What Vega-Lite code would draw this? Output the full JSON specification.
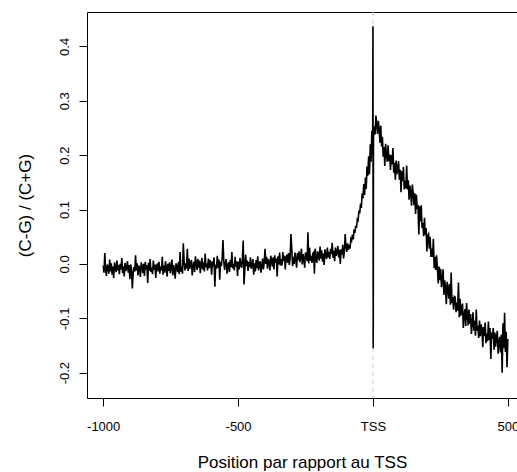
{
  "$schema": "https://vega.github.io/schema/vega-lite/v6.json",
  "autosize": {"type": "none"},
  "width": 430,
  "height": 386,
  "padding": {"left": 87, "top": 12, "right": 0, "bottom": 74},
  "background": "white",
  "config": {
    "view": {"stroke": null},
    "axis": {
      "domainColor": "black", "tickColor": "black", "labelColor": "black", "titleColor": "black",
      "grid": false, "labelFont": "Liberation Sans", "titleFont": "Liberation Sans",
      "titleFontWeight": "normal", "domainWidth": 1, "tickWidth": 1
    }
  },
  "layer": [
    {
      "data": {"values": [{}]},
      "mark": {"type": "rule", "color": "#cccccc", "strokeDash": [4, 4], "strokeWidth": 1},
      "encoding": {
        "x": {"datum": 0, "type": "quantitative",
              "axis": {"orient": "top", "ticks": false, "labels": false, "title": null, "domain": true}}
      }
    },
    {
      "data": {"values": [
{"x":-1000,"y":-0.003},{"x":-997,"y":-0.016},{"x":-994,"y":0.020},{"x":-991,"y":-0.011},{"x":-988,"y":-0.022},{"x":-985,"y":-0.001},{"x":-982,"y":-0.006},{"x":-979,"y":-0.018},{"x":-976,"y":0.008},{"x":-973,"y":-0.014},{"x":-970,"y":0.001},{"x":-967,"y":-0.020},{"x":-964,"y":-0.005},{"x":-961,"y":-0.026},{"x":-958,"y":0.003},{"x":-955,"y":-0.008},{"x":-952,"y":-0.015},{"x":-949,"y":0.006},{"x":-946,"y":-0.012},{"x":-943,"y":-0.002},
{"x":-940,"y":-0.019},{"x":-937,"y":0.000},{"x":-934,"y":-0.010},{"x":-931,"y":0.011},{"x":-928,"y":-0.017},{"x":-925,"y":-0.004},{"x":-922,"y":-0.023},{"x":-919,"y":0.002},{"x":-916,"y":-0.013},{"x":-913,"y":-0.007},{"x":-910,"y":0.005},{"x":-907,"y":-0.016},{"x":-904,"y":-0.002},{"x":-901,"y":-0.028},{"x":-898,"y":-0.001},{"x":-895,"y":-0.011},{"x":-892,"y":-0.045},{"x":-889,"y":-0.018},{"x":-886,"y":-0.006},{"x":-883,"y":-0.014},
{"x":-880,"y":0.016},{"x":-877,"y":-0.012},{"x":-874,"y":0.001},{"x":-871,"y":-0.021},{"x":-868,"y":-0.003},{"x":-865,"y":-0.009},{"x":-862,"y":-0.024},{"x":-859,"y":0.003},{"x":-856,"y":-0.005},{"x":-853,"y":-0.017},{"x":-850,"y":0.000},{"x":-847,"y":-0.022},{"x":-844,"y":0.004},{"x":-841,"y":-0.010},{"x":-838,"y":-0.002},{"x":-835,"y":-0.035},{"x":-832,"y":0.002},{"x":-829,"y":-0.013},{"x":-826,"y":0.009},{"x":-823,"y":-0.015},
{"x":-820,"y":-0.007},{"x":-817,"y":-0.019},{"x":-814,"y":0.006},{"x":-811,"y":-0.011},{"x":-808,"y":-0.001},{"x":-805,"y":-0.026},{"x":-802,"y":-0.004},{"x":-799,"y":0.001},{"x":-796,"y":-0.014},{"x":-793,"y":0.004},{"x":-790,"y":-0.018},{"x":-787,"y":-0.005},{"x":-784,"y":-0.012},{"x":-781,"y":0.013},{"x":-778,"y":-0.020},{"x":-775,"y":-0.003},{"x":-772,"y":-0.016},{"x":-769,"y":0.005},{"x":-766,"y":-0.008},{"x":-763,"y":-0.023},
{"x":-760,"y":0.000},{"x":-757,"y":-0.013},{"x":-754,"y":0.003},{"x":-751,"y":-0.017},{"x":-748,"y":-0.006},{"x":-745,"y":0.008},{"x":-742,"y":-0.021},{"x":-739,"y":-0.002},{"x":-736,"y":-0.010},{"x":-733,"y":-0.027},{"x":-730,"y":0.001},{"x":-727,"y":-0.004},{"x":-724,"y":-0.015},{"x":-721,"y":0.004},{"x":-718,"y":-0.019},{"x":-715,"y":0.022},{"x":-712,"y":-0.014},{"x":-709,"y":-0.005},{"x":-706,"y":-0.018},{"x":-703,"y":0.038},
{"x":-700,"y":0.005},{"x":-697,"y":-0.012},{"x":-694,"y":0.001},{"x":-691,"y":-0.008},{"x":-688,"y":0.028},{"x":-685,"y":-0.013},{"x":-682,"y":0.010},{"x":-679,"y":-0.009},{"x":-676,"y":0.002},{"x":-673,"y":0.007},{"x":-670,"y":-0.021},{"x":-667,"y":-0.004},{"x":-664,"y":0.004},{"x":-661,"y":-0.015},{"x":-658,"y":0.014},{"x":-655,"y":0.000},{"x":-652,"y":-0.011},{"x":-649,"y":0.009},{"x":-646,"y":-0.007},{"x":-643,"y":0.006},
{"x":-640,"y":-0.017},{"x":-637,"y":-0.002},{"x":-634,"y":0.011},{"x":-631,"y":-0.010},{"x":-628,"y":0.003},{"x":-625,"y":-0.014},{"x":-622,"y":0.019},{"x":-619,"y":-0.006},{"x":-616,"y":0.001},{"x":-613,"y":-0.012},{"x":-610,"y":0.010},{"x":-607,"y":-0.008},{"x":-604,"y":0.007},{"x":-601,"y":0.002},{"x":-598,"y":-0.020},{"x":-595,"y":0.005},{"x":-592,"y":-0.005},{"x":-589,"y":0.012},{"x":-586,"y":-0.042},{"x":-583,"y":-0.001},
{"x":-580,"y":-0.009},{"x":-577,"y":0.015},{"x":-574,"y":-0.007},{"x":-571,"y":0.008},{"x":-568,"y":-0.029},{"x":-565,"y":0.004},{"x":-562,"y":-0.004},{"x":-559,"y":0.010},{"x":-556,"y":0.044},{"x":-553,"y":0.006},{"x":-550,"y":-0.011},{"x":-547,"y":0.001},{"x":-544,"y":0.009},{"x":-541,"y":-0.018},{"x":-538,"y":-0.003},{"x":-535,"y":0.003},{"x":-532,"y":-0.015},{"x":-529,"y":0.007},{"x":-526,"y":-0.006},{"x":-523,"y":0.022},
{"x":-520,"y":-0.008},{"x":-517,"y":0.000},{"x":-514,"y":-0.012},{"x":-511,"y":0.013},{"x":-508,"y":-0.005},{"x":-505,"y":0.005},{"x":-502,"y":-0.022},{"x":-499,"y":0.004},{"x":-496,"y":-0.010},{"x":-493,"y":0.011},{"x":-490,"y":-0.001},{"x":-487,"y":-0.007},{"x":-484,"y":0.008},{"x":-481,"y":0.043},{"x":-478,"y":-0.038},{"x":-475,"y":-0.011},{"x":-472,"y":0.017},{"x":-469,"y":-0.004},{"x":-466,"y":0.006},{"x":-463,"y":-0.013},
{"x":-460,"y":0.004},{"x":-457,"y":-0.006},{"x":-454,"y":0.012},{"x":-451,"y":-0.009},{"x":-448,"y":-0.002},{"x":-445,"y":0.009},{"x":-442,"y":-0.020},{"x":-439,"y":0.001},{"x":-436,"y":-0.014},{"x":-433,"y":0.007},{"x":-430,"y":-0.008},{"x":-427,"y":0.014},{"x":-424,"y":-0.012},{"x":-421,"y":0.000},{"x":-418,"y":0.005},{"x":-415,"y":-0.016},{"x":-412,"y":-0.005},{"x":-409,"y":0.010},{"x":-406,"y":-0.010},{"x":-403,"y":0.003},
{"x":-400,"y":0.028},{"x":-397,"y":0.000},{"x":-394,"y":0.013},{"x":-391,"y":-0.009},{"x":-388,"y":0.009},{"x":-385,"y":0.003},{"x":-382,"y":-0.012},{"x":-379,"y":0.015},{"x":-376,"y":0.007},{"x":-373,"y":-0.005},{"x":-370,"y":0.012},{"x":-367,"y":-0.010},{"x":-364,"y":0.016},{"x":-361,"y":0.002},{"x":-358,"y":0.010},{"x":-355,"y":-0.023},{"x":-352,"y":0.014},{"x":-349,"y":-0.001},{"x":-346,"y":0.021},{"x":-343,"y":-0.003},
{"x":-340,"y":0.009},{"x":-337,"y":-0.003},{"x":-334,"y":0.022},{"x":-331,"y":0.005},{"x":-328,"y":0.015},{"x":-325,"y":-0.010},{"x":-322,"y":0.012},{"x":-319,"y":0.017},{"x":-316,"y":0.002},{"x":-313,"y":0.020},{"x":-310,"y":-0.002},{"x":-307,"y":0.011},{"x":-304,"y":0.055},{"x":-301,"y":0.029},{"x":-298,"y":-0.004},{"x":-295,"y":0.013},{"x":-292,"y":0.000},{"x":-289,"y":0.021},{"x":-286,"y":0.008},{"x":-283,"y":-0.007},
{"x":-280,"y":0.020},{"x":-277,"y":0.007},{"x":-274,"y":0.023},{"x":-271,"y":0.003},{"x":-268,"y":0.014},{"x":-265,"y":0.028},{"x":-262,"y":-0.001},{"x":-259,"y":0.018},{"x":-256,"y":0.010},{"x":-253,"y":-0.007},{"x":-250,"y":0.021},{"x":-247,"y":0.016},{"x":-244,"y":0.005},{"x":-241,"y":0.058},{"x":-238,"y":0.001},{"x":-235,"y":0.030},{"x":-232,"y":0.006},{"x":-229,"y":0.015},{"x":-226,"y":0.002},{"x":-223,"y":0.019},
{"x":-220,"y":0.021},{"x":-217,"y":-0.018},{"x":-214,"y":0.028},{"x":-211,"y":0.013},{"x":-208,"y":0.002},{"x":-205,"y":0.023},{"x":-202,"y":0.018},{"x":-199,"y":0.006},{"x":-196,"y":0.032},{"x":-193,"y":0.010},{"x":-190,"y":0.025},{"x":-187,"y":0.004},{"x":-184,"y":0.019},{"x":-181,"y":-0.002},{"x":-178,"y":0.027},{"x":-175,"y":0.016},{"x":-172,"y":0.009},{"x":-169,"y":0.030},{"x":-166,"y":0.012},{"x":-163,"y":0.022},
{"x":-160,"y":0.009},{"x":-157,"y":0.028},{"x":-154,"y":0.018},{"x":-151,"y":0.039},{"x":-148,"y":0.011},{"x":-145,"y":0.024},{"x":-142,"y":0.005},{"x":-139,"y":0.030},{"x":-136,"y":0.015},{"x":-133,"y":0.021},{"x":-130,"y":0.033},{"x":-127,"y":0.012},{"x":-124,"y":0.026},{"x":-121,"y":0.000},{"x":-118,"y":0.027},{"x":-115,"y":0.017},{"x":-112,"y":0.035},{"x":-109,"y":0.010},{"x":-106,"y":0.022},{"x":-103,"y":0.055},
{"x":-100,"y":0.033},{"x":-97,"y":0.022},{"x":-94,"y":0.038},{"x":-91,"y":0.026},{"x":-88,"y":0.035},{"x":-85,"y":0.028},{"x":-82,"y":0.046},{"x":-79,"y":0.043},{"x":-76,"y":0.054},{"x":-73,"y":0.045},{"x":-70,"y":0.063},{"x":-67,"y":0.057},{"x":-64,"y":0.070},{"x":-61,"y":0.066},{"x":-58,"y":0.082},{"x":-55,"y":0.080},{"x":-52,"y":0.098},{"x":-49,"y":0.093},{"x":-46,"y":0.111},{"x":-43,"y":0.103},
{"x":-40,"y":0.130},{"x":-37,"y":0.121},{"x":-34,"y":0.147},{"x":-31,"y":0.127},{"x":-28,"y":0.159},{"x":-25,"y":0.138},{"x":-22,"y":0.179},{"x":-19,"y":0.162},{"x":-16,"y":0.198},{"x":-13,"y":0.165},{"x":-10,"y":0.220},{"x":-7,"y":0.188},{"x":-4,"y":0.245},{"x":-1,"y":0.200},{"x":0,"y":0.437},{"x":1,"y":-0.155},{"x":2,"y":0.232},
{"x":5,"y":0.253},{"x":8,"y":0.238},{"x":11,"y":0.273},{"x":14,"y":0.257},{"x":17,"y":0.239},{"x":20,"y":0.263},{"x":23,"y":0.248},{"x":26,"y":0.223},{"x":29,"y":0.254},{"x":32,"y":0.216},{"x":35,"y":0.234},{"x":38,"y":0.197},{"x":41,"y":0.215},{"x":44,"y":0.180},{"x":47,"y":0.221},{"x":50,"y":0.201},{"x":53,"y":0.188},{"x":56,"y":0.218},{"x":59,"y":0.189},{"x":62,"y":0.201},
{"x":65,"y":0.173},{"x":68,"y":0.200},{"x":71,"y":0.183},{"x":74,"y":0.213},{"x":77,"y":0.168},{"x":80,"y":0.186},{"x":83,"y":0.155},{"x":86,"y":0.190},{"x":89,"y":0.165},{"x":92,"y":0.173},{"x":95,"y":0.189},{"x":98,"y":0.155},{"x":101,"y":0.173},{"x":104,"y":0.132},{"x":107,"y":0.171},{"x":110,"y":0.152},{"x":113,"y":0.178},{"x":116,"y":0.137},{"x":119,"y":0.153},{"x":122,"y":0.139},
{"x":125,"y":0.181},{"x":128,"y":0.137},{"x":131,"y":0.154},{"x":134,"y":0.118},{"x":137,"y":0.144},{"x":140,"y":0.131},{"x":143,"y":0.107},{"x":146,"y":0.146},{"x":149,"y":0.131},{"x":152,"y":0.108},{"x":155,"y":0.130},{"x":158,"y":0.092},{"x":161,"y":0.127},{"x":164,"y":0.101},{"x":167,"y":0.109},{"x":170,"y":0.054},{"x":173,"y":0.106},{"x":176,"y":0.078},{"x":179,"y":0.108},{"x":182,"y":0.066},
{"x":185,"y":0.075},{"x":188,"y":0.051},{"x":191,"y":0.085},{"x":194,"y":0.054},{"x":197,"y":0.066},{"x":200,"y":0.023},{"x":203,"y":0.052},{"x":206,"y":0.055},{"x":209,"y":0.028},{"x":212,"y":0.050},{"x":215,"y":0.013},{"x":218,"y":0.028},{"x":221,"y":0.013},{"x":224,"y":0.046},{"x":227,"y":-0.008},{"x":230,"y":0.013},{"x":233,"y":-0.011},{"x":236,"y":0.016},{"x":239,"y":-0.008},{"x":242,"y":-0.036},
{"x":245,"y":-0.005},{"x":248,"y":-0.030},{"x":251,"y":-0.009},{"x":254,"y":-0.043},{"x":257,"y":-0.028},{"x":260,"y":-0.010},{"x":263,"y":-0.057},{"x":266,"y":-0.030},{"x":269,"y":-0.045},{"x":272,"y":-0.074},{"x":275,"y":-0.033},{"x":278,"y":-0.044},{"x":281,"y":-0.064},{"x":284,"y":-0.037},{"x":287,"y":-0.075},{"x":290,"y":-0.016},{"x":293,"y":-0.072},{"x":296,"y":-0.061},{"x":299,"y":-0.084},{"x":302,"y":-0.060},
{"x":305,"y":-0.061},{"x":308,"y":-0.089},{"x":311,"y":-0.071},{"x":314,"y":-0.086},{"x":317,"y":-0.034},{"x":320,"y":-0.098},{"x":323,"y":-0.064},{"x":326,"y":-0.095},{"x":329,"y":-0.080},{"x":332,"y":-0.073},{"x":335,"y":-0.118},{"x":338,"y":-0.094},{"x":341,"y":-0.083},{"x":344,"y":-0.114},{"x":347,"y":-0.072},{"x":350,"y":-0.094},{"x":353,"y":-0.113},{"x":356,"y":-0.084},{"x":359,"y":-0.110},{"x":362,"y":-0.092},
{"x":365,"y":-0.129},{"x":368,"y":-0.107},{"x":371,"y":-0.089},{"x":374,"y":-0.123},{"x":377,"y":-0.104},{"x":380,"y":-0.132},{"x":383,"y":-0.084},{"x":386,"y":-0.123},{"x":389,"y":-0.114},{"x":392,"y":-0.136},{"x":395,"y":-0.104},{"x":398,"y":-0.133},{"x":401,"y":-0.111},{"x":404,"y":-0.120},{"x":407,"y":-0.153},{"x":410,"y":-0.116},{"x":413,"y":-0.133},{"x":416,"y":-0.108},{"x":419,"y":-0.146},{"x":422,"y":-0.128},
{"x":425,"y":-0.142},{"x":428,"y":-0.106},{"x":431,"y":-0.140},{"x":434,"y":-0.118},{"x":437,"y":-0.175},{"x":440,"y":-0.126},{"x":443,"y":-0.138},{"x":446,"y":-0.118},{"x":449,"y":-0.158},{"x":452,"y":-0.126},{"x":455,"y":-0.152},{"x":458,"y":-0.134},{"x":461,"y":-0.123},{"x":464,"y":-0.165},{"x":467,"y":-0.143},{"x":470,"y":-0.134},{"x":473,"y":-0.163},{"x":476,"y":-0.130},{"x":479,"y":-0.200},{"x":482,"y":-0.109},
{"x":485,"y":-0.155},{"x":488,"y":-0.090},{"x":491,"y":-0.162},{"x":494,"y":-0.125},{"x":497,"y":-0.190},{"x":500,"y":-0.138}
      ]},
      "mark": {"type": "line", "color": "black", "strokeWidth": 1.6},
      "encoding": {
        "x": {"field": "x", "type": "quantitative",
              "scale": {"domain": [-1060, 534], "nice": false, "zero": false},
              "axis": {"orient": "bottom", "values": [-1000, -500, 0, 500],
                       "labelExpr": "datum.value == 0 ? 'TSS' : '' + datum.value",
                       "tickSize": 8, "labelPadding": 24, "labelBaseline": "alphabetic",
                       "labelFontSize": 13, "labelFlush": false, "labelOverlap": false,
                       "title": "Position par rapport au TSS", "titleFontSize": 17,
                       "titleBaseline": "alphabetic", "titleY": 69}},
        "y": {"field": "y", "type": "quantitative",
              "scale": {"domain": [-0.2466, 0.4633], "nice": false, "zero": false},
              "axis": {"orient": "left", "values": [-0.2, -0.1, 0, 0.1, 0.2, 0.3, 0.4],
                       "labelExpr": "replace(format(datum.value, '.1f'), '\u2212', '-')",
                       "labelAngle": 270, "labelAlign": "center", "labelBaseline": "alphabetic",
                       "tickSize": 8, "labelPadding": 11, "labelFontSize": 13,
                       "labelOverlap": false, "labelFlush": false,
                       "title": "(C-G) / (C+G)", "titleFontSize": 17,
                       "titleX": -62, "titleY": 193, "titleAngle": 270,
                       "titleAlign": "center", "titleBaseline": "middle"}}
      }
    }
  ]
}
